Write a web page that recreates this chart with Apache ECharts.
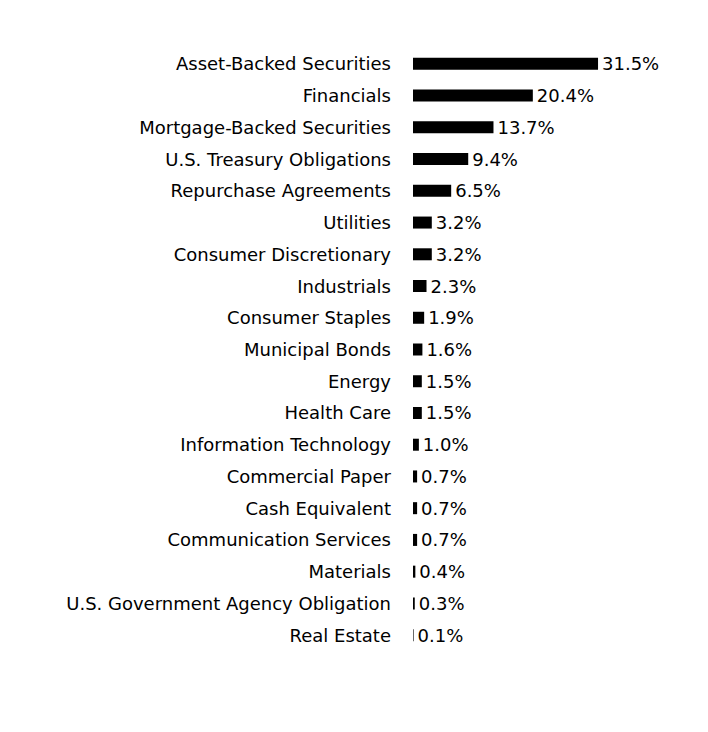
<!DOCTYPE html>
<html><head><meta charset="utf-8">
<script src="https://cdn.jsdelivr.net/npm/echarts@6/dist/echarts.min.js"></script>
<style>html,body{margin:0;padding:0;background:#fff}#c{width:708px;height:732px}</style>
</head><body><div id="c"></div>
<script>
const categories = ["Asset-Backed Securities","Financials","Mortgage-Backed Securities","U.S. Treasury Obligations","Repurchase Agreements","Utilities","Consumer Discretionary","Industrials","Consumer Staples","Municipal Bonds","Energy","Health Care","Information Technology","Commercial Paper","Cash Equivalent","Communication Services","Materials","U.S. Government Agency Obligation","Real Estate"];
const values = [31.5,20.4,13.7,9.4,6.5,3.2,3.2,2.3,1.9,1.6,1.5,1.5,1.0,0.7,0.7,0.7,0.4,0.3,0.1];
const chart = echarts.init(document.getElementById('c'), null, {renderer:'svg'});
const font = 'DejaVu Sans, sans-serif';
chart.setOption({
  animation:false,
  grid:{left:413, top:48, width:205.6, height:603, containLabel:false},
  xAxis:{type:'value', min:0, max:35, show:false},
  yAxis:{type:'category', inverse:true, data:categories,
    axisLine:{show:false}, axisTick:{show:false},
    axisLabel:{color:'#000', fontSize:18, fontFamily:font, margin:22}},
  series:[{type:'bar', data:values, barWidth:12, itemStyle:{color:'#000'},
    label:{show:true, position:'right', distance:4, color:'#000', fontSize:18, fontFamily:font,
      formatter:p=>p.value.toFixed(1)+'%'}}]
});
</script></body></html>
